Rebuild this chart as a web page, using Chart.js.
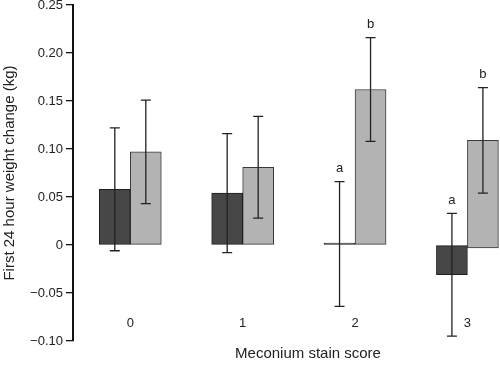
<!DOCTYPE html>
<html>
<head>
<meta charset="utf-8">
<title>First 24 hour weight change by meconium stain score</title>
<script src="https://cdn.jsdelivr.net/npm/chart.js@4.4.0/dist/chart.umd.min.js"></script>
<style>
  html, body { margin: 0; padding: 0; background: #fff; }
  #wrap { width: 500px; height: 366px; }
</style>
</head>
<body>
<div id="wrap"><canvas id="weightChart" width="500" height="366"></canvas></div>
<script>
// Chart data
const scores = ['0', '1', '2', '3'];
const darkMeans = [0.058, 0.054, 0.001, -0.031];
const darkErrors = [0.064, 0.062, 0.065, 0.064];
const darkLetters = ['', '', 'a', 'a'];
const lightMeans = [0.097, 0.081, 0.162, 0.109];
const lightBases = [0, 0, 0, -0.003];
const lightErrors = [0.054, 0.053, 0.054, 0.055];
const lightLetters = ['', '', 'b', 'b'];
const yTicks = [-0.10, -0.05, 0, 0.05, 0.10, 0.15, 0.20, 0.25];

const FONT = '"Liberation Sans", Arial, Helvetica, sans-serif';
const TEXT_COLOR = '#222';
const X_TITLE = 'Meconium stain score';

document.addEventListener('DOMContentLoaded', function() {
    initializeWeightChart();
});

function formatTick(value) {
    if (Math.abs(value) < 1e-9) return '0';
    return (value < 0 ? '\u2212' : '') + Math.abs(value).toFixed(2);
}

// Error bars + significance letters drawn on top of the bars
const errorBarPlugin = {
    id: 'errorBars',
    afterDatasetsDraw(chart) {
        const ctx = chart.ctx;
        const yScale = chart.scales.y;
        ctx.save();
        ctx.strokeStyle = '#222';
        ctx.lineWidth = 1.3;
        ctx.fillStyle = TEXT_COLOR;
        ctx.font = '13px ' + FONT;
        ctx.textAlign = 'center';
        ctx.textBaseline = 'middle';

        chart.data.datasets.forEach((dataset, d) => {
            const meta = chart.getDatasetMeta(d);
            meta.data.forEach((bar, i) => {
                const mean = dataset.means[i];
                const err = dataset.errors[i];
                const x = bar.x;
                const top = yScale.getPixelForValue(mean + err);
                const bottom = yScale.getPixelForValue(mean - err);
                const cap = 5;

                ctx.beginPath();
                ctx.moveTo(x, top);
                ctx.lineTo(x, bottom);
                ctx.moveTo(x - cap, top);
                ctx.lineTo(x + cap, top);
                ctx.moveTo(x - cap, bottom);
                ctx.lineTo(x + cap, bottom);
                ctx.stroke();

                if (dataset.letters[i]) {
                    ctx.fillText(dataset.letters[i], x, top - 13);
                }
            });
        });
        ctx.restore();
    }
};

// Score labels sit inside the plot, just above the bottom of the y axis.
// The axis title is centred on the original (wider, cropped) plot, so it
// is drawn here rather than by the scale.
const scoreLabelPlugin = {
    id: 'scoreLabels',
    afterDraw(chart) {
        const ctx = chart.ctx;
        const xScale = chart.scales.x;
        const area = chart.chartArea;
        ctx.save();
        ctx.fillStyle = TEXT_COLOR;
        ctx.font = '13px ' + FONT;
        ctx.textAlign = 'center';
        ctx.textBaseline = 'middle';
        scores.forEach((label, i) => {
            ctx.fillText(label, xScale.getPixelForValue(i), area.bottom - 18);
        });

        ctx.font = '15px ' + FONT;
        ctx.fillText(X_TITLE, area.left + 235, area.bottom + 13);
        ctx.restore();
    }
};

function initializeWeightChart() {
    const ctx = document.getElementById('weightChart');
    if (!ctx) return;

    new Chart(ctx, {
        type: 'bar',
        data: {
            datasets: [{
                label: 'dark',
                data: scores.map((s, i) => ({ x: i, y: darkMeans[i] })),
                means: darkMeans,
                errors: darkErrors,
                letters: darkLetters,
                backgroundColor: '#474747',
                borderColor: '#1e1e1e',
                borderWidth: 1,
                borderSkipped: false,
                minBarLength: 2,
                barThickness: 31
            }, {
                label: 'light',
                data: scores.map((s, i) => ({ x: i, y: [lightBases[i], lightMeans[i]] })),
                means: lightMeans,
                errors: lightErrors,
                letters: lightLetters,
                backgroundColor: '#b3b3b3',
                borderColor: '#3a3a3a',
                borderWidth: 1,
                borderSkipped: false,
                barThickness: 31
            }]
        },
        options: {
            responsive: false,
            animation: false,
            layout: { padding: 0 },
            plugins: {
                legend: { display: false },
                tooltip: { enabled: false }
            },
            scales: {
                x: {
                    type: 'linear',
                    offset: false,
                    min: -0.51,
                    max: 3.29,
                    grid: { display: false, offset: false },
                    border: { display: false },
                    ticks: { display: false },
                    afterFit: function(scale) {
                        scale.height = 25;
                    }
                },
                y: {
                    min: -0.10,
                    max: 0.25,
                    grid: {
                        drawOnChartArea: false,
                        drawTicks: true,
                        tickLength: 7,
                        color: '#111',
                        lineWidth: 1.3
                    },
                    border: { display: true, color: '#111', width: 2 },
                    ticks: {
                        padding: 3,
                        color: TEXT_COLOR,
                        font: { family: FONT, size: 13 },
                        callback: formatTick
                    },
                    afterBuildTicks: function(scale) {
                        scale.ticks = yTicks.map(v => ({ value: v }));
                    },
                    title: {
                        display: true,
                        text: 'First 24 hour weight change (kg)',
                        color: TEXT_COLOR,
                        font: { family: FONT, size: 15 },
                        padding: { top: 1, bottom: 0 }
                    },
                    afterFit: function(scale) {
                        scale.width = 73;
                        scale.paddingTop = 5;
                        scale.paddingBottom = 0;
                    }
                }
            }
        },
        plugins: [errorBarPlugin, scoreLabelPlugin]
    });
}
</script>
</body>
</html>
